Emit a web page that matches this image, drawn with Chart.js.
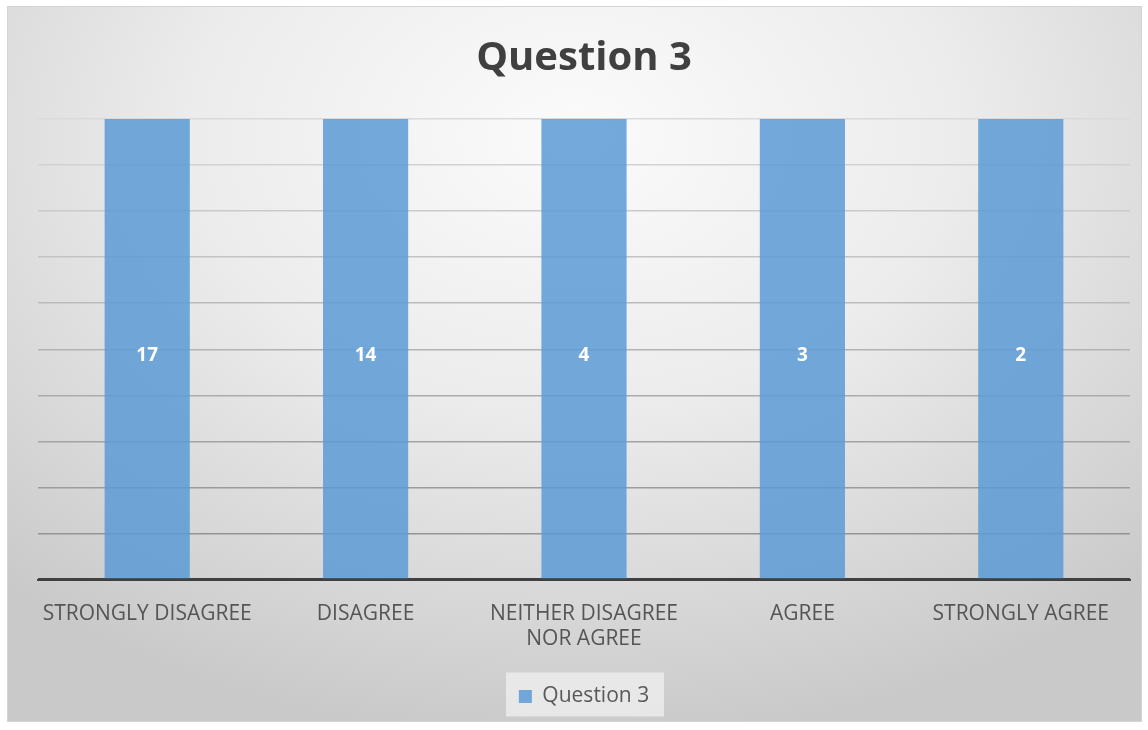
<!DOCTYPE html>
<html>
<head>
<meta charset="utf-8">
<script src="https://cdn.jsdelivr.net/npm/chart.js@4.4.1/dist/chart.umd.min.js"></script>
<style>
  html, body { margin: 0; padding: 0; background: #ffffff; }
  #frame {
    position: absolute; left: 7px; top: 6px; width: 1133px; height: 714px;
    border: 1px solid #d4d4d4;
    background: radial-gradient(ellipse 75% 85% at 50% 18%, #fbfbfb 0%, #ececec 45%, #d6d6d6 80%, #c9c9c9 100%);
  }
</style>
</head>
<body>
<div id="frame"><canvas id="chart" width="1133" height="714"></canvas></div>
<script>
// Question 3 — survey answers
const categories = ['STRONGLY DISAGREE', 'DISAGREE', ['NEITHER DISAGREE', 'NOR AGREE'], 'AGREE', 'STRONGLY AGREE'];
const counts = [17, 14, 4, 3, 2];
const seriesName = 'Question 3';
// value axis as set in the original sheet (bars run past its top)
const axisMax = 2;
const axisStep = 0.2;

// value labels in the middle of the visible part of each bar
const barLabels = {
  id: 'barLabels',
  afterDatasetsDraw(chart) {
    const { ctx, chartArea } = chart;
    const meta = chart.getDatasetMeta(0);
    ctx.save();
    ctx.fillStyle = '#ffffff';
    ctx.font = 'bold 19px "Open Sans"';
    ctx.textAlign = 'center';
    ctx.textBaseline = 'middle';
    meta.data.forEach((bar, i) => {
      const top = Math.max(bar.y, chartArea.top);
      ctx.fillText(String(counts[i]), bar.x, (top + bar.base) / 2 + 7);
    });
    ctx.restore();
  }
};

// light box behind the legend
const legendBox = {
  id: 'legendBox',
  beforeDraw(chart) {
    const l = chart.legend;
    if (!l) return;
    const { ctx } = chart;
    ctx.save();
    ctx.fillStyle = 'rgba(240,240,240,0.75)';
    const w = 158, h = 44;
    ctx.fillRect(498, l.top + l.height / 2 - h / 2, w, h);
    ctx.restore();
  }
};

new Chart(document.getElementById('chart'), {
  type: 'bar',
  data: {
    labels: categories,
    datasets: [{
      label: seriesName,
      data: counts,
      backgroundColor: 'rgba(91,155,213,0.85)',
      borderWidth: 0,
      barPercentage: 0.39,
      categoryPercentage: 1,
      clip: 0
    }]
  },
  options: {
    responsive: false,
    animation: false,
    layout: { padding: { left: 30, right: 11, top: 0, bottom: 4 } },
    plugins: {
      title: {
        display: true,
        text: seriesName,
        color: '#404040',
        font: { family: '"Open Sans"', size: 40, weight: 'bold' },
        padding: { top: 28, bottom: 36 }
      },
      legend: {
        position: 'bottom',
        labels: {
          color: '#595959',
          font: { family: '"Open Sans"', size: 21 },
          boxWidth: 13,
          boxHeight: 13,
          padding: 14
        }
      },
      tooltip: { enabled: false }
    },
    scales: {
      x: {
        grid: { display: false },
        border: { color: '#404040', width: 2 },
        afterFit: (s) => { s.height += 6; },
        ticks: {
          color: '#555555',
          font: { family: '"Open Sans"', size: 21, lineHeight: 1.2 },
          padding: 14,
          maxRotation: 0
        }
      },
      y: {
        min: 0,
        max: axisMax,
        border: { display: false },
        grid: {
          drawTicks: false,
          color: (c) => {
            if (c.index === 0) return '#404040';
            const t = c.index / 10;
            const v = Math.round(140 + (218 - 140) * t);
            return `rgb(${v},${v},${v})`;
          },
          lineWidth: (c) => (c.index === 0 ? 2.5 : 1.5)
        },
        ticks: { display: false, stepSize: axisStep }
      }
    }
  },
  plugins: [legendBox, barLabels]
});
</script>
</body>
</html>
